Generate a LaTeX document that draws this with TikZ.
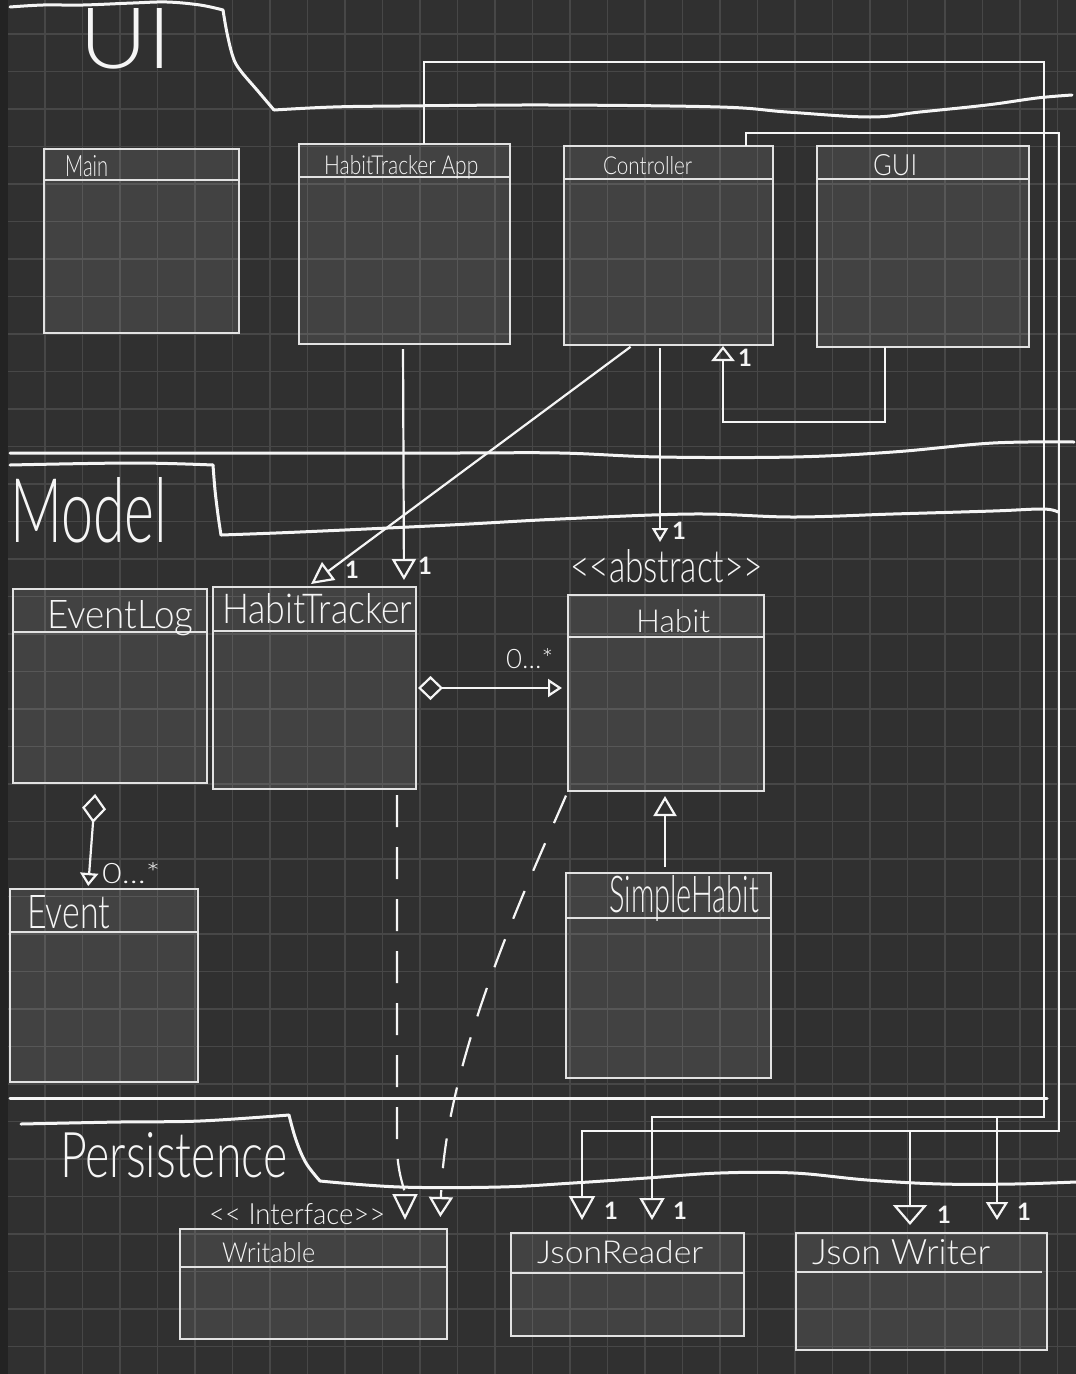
\documentclass[tikz,border=0pt]{standalone}
\usepackage{fontspec}
\setmainfont{Lato}
\newfontfamily\handf{Lato Light}
\usetikzlibrary{arrows.meta,calc}
\definecolor{bgc}{HTML}{303030}
\definecolor{gridc}{HTML}{474747}
\definecolor{stripc}{HTML}{232323}
\definecolor{inkc}{HTML}{F5F5F5}
\definecolor{boxc}{HTML}{E2E2E2}
\newcommand\hw[3]{\resizebox{#1pt}{#2pt}{\handf #3}}
\begin{document}
\begin{tikzpicture}[x=1pt,y=-1pt,
  umlbox/.style={draw=boxc,line width=1.4pt,fill=white,fill opacity=0.09,draw opacity=1,inner sep=0pt,outer sep=0pt,anchor=north west},
  hdrline/.style={draw=boxc,line width=1.3pt},
  lbl/.style={inner sep=0pt,anchor=base west,text=inkc},
  one/.style={inner sep=0pt,text=inkc,font=\fontsize{24}{24}\selectfont\bfseries},
  conn/.style={draw=inkc,line width=2.2pt},
  bound/.style={draw=inkc,line width=3pt,line cap=round,line join=round},
]
\useasboundingbox (0,0) rectangle (1076,1374);
\fill[bgc] (0,0) rectangle (1076,1374);
\foreach \i in {0,...,28} \draw[gridc,line width=1.6pt] ({7.5+37.5*\i},0) -- ({7.5+37.5*\i},1374);
\foreach \j in {0,...,35} \draw[gridc,line width=1.6pt] (0,{34+37.5*\j}) -- (1076,{34+37.5*\j});
\fill[stripc] (0,0) rectangle (8,1374);

% ---------- section boundaries ----------
\draw[bound] plot[smooth,tension=0.6] coordinates {(10,7) (43,5) (83,5) (133,3) (167,2) (200,5) (223,10)};
\draw[bound] plot[smooth,tension=0.6] coordinates {(223,10) (227,33) (233,57) (240,70) (257,90) (274,110)};
\draw[bound] plot[smooth,tension=0.6] coordinates {(274,110) (333,107) (400,106) (550,105) (720,107) (787,112) (870,117) (920,112) (987,105) (1037,98) (1072,95)};

\draw[bound] plot[smooth,tension=0.6] coordinates {(10,453) (233,453) (450,453) (560,453) (660,457) (793,457) (893,452) (993,443) (1074,442)};
\draw[bound] plot[smooth,tension=0.6] coordinates {(10,465) (133,463) (213,465)};
\draw[bound] plot[smooth,tension=0.6] coordinates {(213,465) (215,490) (218,515) (221,535)};
\draw[bound] plot[smooth,tension=0.6] coordinates {(221,535) (300,532) (450,525) (560,519) (693,514) (793,517) (893,514) (993,511) (1043,509) (1058,512)};

\draw[bound] (10,1098) -- (1047,1098);
\draw[bound] plot[smooth,tension=0.6] coordinates {(21,1124) (120,1122) (200,1121) (289,1115)};
\draw[bound] plot[smooth,tension=0.6] coordinates {(289,1115) (296,1140) (306,1163) (320,1181)};
\draw[bound] plot[smooth,tension=0.6] coordinates {(320,1181) (400,1187) (500,1187) (573,1183) (647,1178) (720,1173) (794,1173) (867,1180) (941,1184) (1014,1184) (1076,1182)};

% ---------- class boxes ----------
\node[umlbox,minimum width=195pt,minimum height=184pt] (main) at (44,149) {};
\node[umlbox,minimum width=211pt,minimum height=200pt] (hta) at (299,144) {};
\node[umlbox,minimum width=209pt,minimum height=199pt] (ctrl) at (564,146) {};
\node[umlbox,minimum width=212pt,minimum height=201pt] (gui) at (817,146) {};
\node[umlbox,minimum width=194pt,minimum height=194pt] (elog) at (13,589) {};
\node[umlbox,minimum width=203pt,minimum height=202pt] (ht) at (213,587) {};
\node[umlbox,minimum width=196pt,minimum height=196pt] (habit) at (568,595) {};
\node[umlbox,minimum width=205pt,minimum height=205pt] (shabit) at (566,873) {};
\node[umlbox,minimum width=188pt,minimum height=193pt] (event) at (10,889) {};
\node[umlbox,minimum width=267pt,minimum height=110pt] (writ) at (180,1229) {};
\node[umlbox,minimum width=233pt,minimum height=103pt] (jr) at (511,1233) {};
\node[umlbox,minimum width=251pt,minimum height=117pt] (jw) at (796,1233) {};

\draw[hdrline] ([yshift=-31pt]main.north west) -- ([yshift=-31pt]main.north east);
\draw[hdrline] ([yshift=-33pt]hta.north west) -- ([yshift=-33pt]hta.north east);
\draw[hdrline] ([yshift=-33pt]ctrl.north west) -- ([yshift=-33pt]ctrl.north east);
\draw[hdrline] ([yshift=-33pt]gui.north west) -- ([yshift=-33pt]gui.north east);
\draw[hdrline] ([yshift=-43pt]elog.north west) -- ([yshift=-43pt]elog.north east);
\draw[hdrline] ([yshift=-44pt]ht.north west) -- ([yshift=-44pt]ht.north east);
\draw[hdrline] ([yshift=-42pt]habit.north west) -- ([yshift=-42pt]habit.north east);
\draw[hdrline] ([yshift=-45pt]shabit.north west) -- ([yshift=-45pt]shabit.north east);
\draw[hdrline] ([yshift=-43pt]event.north west) -- ([yshift=-43pt]event.north east);
\draw[hdrline] ([yshift=-38pt]writ.north west) -- ([yshift=-38pt]writ.north east);
\draw[hdrline] ([yshift=-40pt]jr.north west) -- ([yshift=-40pt]jr.north east);
\draw[hdrline] ([yshift=-39pt]jw.north west) -- ([yshift=-39pt,xshift=-5pt]jw.north east);

% ---------- connectors ----------
\draw[conn,shorten <=5pt,shorten >=7pt,-{Triangle[open,length=21pt,width=24pt]}] ([xshift=104pt]hta.south west) -- ([xshift=191pt]ht.north west);
\draw[conn,shorten <=3pt,shorten >=5pt,-{Triangle[open,length=22pt,width=22pt]}] ([xshift=69pt]ctrl.south west) -- ([xshift=94pt]ht.north west);
\draw[conn,shorten <=3pt,shorten >=53pt,-{Triangle[open,length=14pt,width=16pt]}] ([xshift=96pt]ctrl.south west) -- ([xshift=92pt]habit.north west);
\draw[conn,shorten >=1pt,-{Triangle[open,length=15pt,width=23pt]}] ([xshift=68pt]gui.south west) -- ++(0,75) -| ([xshift=159pt]ctrl.south west);
\draw[conn,shorten <=2pt,shorten >=6pt,{Diamond[open,length=25pt,width=24pt]}-{Triangle[open,length=14pt,width=18pt]}] (ht.east) -- (ht.east -| habit.west);
\draw[conn,shorten <=11pt,shorten >=3pt,{Diamond[open,length=29pt,width=24pt]}-{Triangle[open,length=13pt,width=18pt]}] ([xshift=83pt]elog.south west) -- ([xshift=78pt]event.north west);
\draw[conn,shorten <=6pt,shorten >=5pt,-{Triangle[open,length=20pt,width=23pt]}] ([xshift=99pt]shabit.north west) -- ([xshift=97pt]habit.south west);

\draw[conn,dash pattern=on 32pt off 20pt,shorten <=6pt,shorten >=9pt,-{Triangle[open,length=26pt,width=25pt]}] ([xshift=184pt]ht.south west) -- ++(0,355) .. controls +(0,30) and +(0,-40) .. ([xshift=225pt]writ.north west);
\draw[conn,dash pattern=on 30pt off 22pt,shorten <=5pt,shorten >=12pt,-{Triangle[open,length=20pt,width=24pt]}] (habit.south west) .. controls (525,890) and (445,1060) .. ([xshift=260pt]writ.north west);

\coordinate (cornA) at (1044,62);
\coordinate (busA) at (1044,1117);
\coordinate (brA) at (997,1117);
\coordinate (cornB) at (1059,133);
\coordinate (busB) at (1059,1131);
\coordinate (brB) at (910,1131);
\draw[conn,line join=miter,shorten >=13pt,-{Triangle[open,length=22pt,width=25pt]}] ([xshift=125pt]hta.north west) |- (cornA) -- (busA) -| ([xshift=141pt]jr.north west);
\draw[conn,shorten >=13pt,-{Triangle[open,length=18pt,width=22pt]}] (brA) -- (brA |- jw.north);
\draw[conn,line join=miter,shorten >=13pt,-{Triangle[open,length=24pt,width=26pt]}] ([xshift=182pt]ctrl.north west) |- (cornB) -- (busB) -| ([xshift=71pt]jr.north west);
\draw[conn,shorten >=8pt,-{Triangle[open,length=20pt,width=34pt]}] (brB) -- (brB |- jw.north);

% ---------- multiplicities ----------
\node[one] (m1) at (352,570) {1};
\node[one] (m2) at (425,566) {1};
\node[one] (m3) at (679,531) {1};
\node[one] (m4) at (745,358) {1};
\node[one] (m5) at (611,1211) {1};
\node[one] (m6) at (680,1211) {1};
\node[one] (m7) at (944,1215) {1};
\node[one] (m8) at (1024,1212) {1};
\node[lbl] (mm1) at (506,668) {\hw{47}{20}{0...*}};
\node[lbl] (mm2) at (102,883) {\hw{58}{21}{0...*}};

% ---------- texts ----------
\node[lbl] (tUI) at (79,68) {\hw{93}{60}{UI}};
\node[lbl] (tModel) at (10,542) {\hw{157}{65}{Model}};
\node[lbl] (tPers) at (60,1177) {\hw{227}{45}{Persistence}};
\node[lbl] (tMain) at (65,176) {\hw{43}{21}{Main}};
\node[lbl] (tHTA) at (324,174) {\hw{154}{19}{HabitTracker App}};
\node[lbl] (tCtrl) at (603,174) {\hw{89}{18}{Controller}};
\node[lbl] (tGUI) at (873,175) {\hw{44}{21}{GUI}};
\node[lbl] (tElog) at (47,628) {\hw{146}{28}{EventLog}};
\node[lbl] (tHT) at (222,623) {\hw{190}{30}{HabitTracker}};
\node[lbl] (tAbs) at (570,582) {\hw{193}{33}{<\kern0pt<abstract>\kern0pt>}};
\node[lbl] (tHabit) at (636,632) {\hw{74}{23}{Habit}};
\node[lbl] (tSH) at (609,912) {\hw{150}{37}{SimpleHabit}};
\node[lbl] (tEvent) at (27,928) {\hw{83}{33}{Event}};
\node[lbl] (tIntf) at (209,1224) {\hw{176}{21}{<\kern0pt< Interface>\kern0pt>}};
\node[lbl] (tWrit) at (222,1262) {\hw{93}{20}{Writable}};
\node[lbl] (tJR) at (537,1263) {\hw{166}{23}{JsonReader}};
\node[lbl] (tJW) at (812,1264) {\hw{178}{25}{Json Writer}};
\end{tikzpicture}
\end{document}
